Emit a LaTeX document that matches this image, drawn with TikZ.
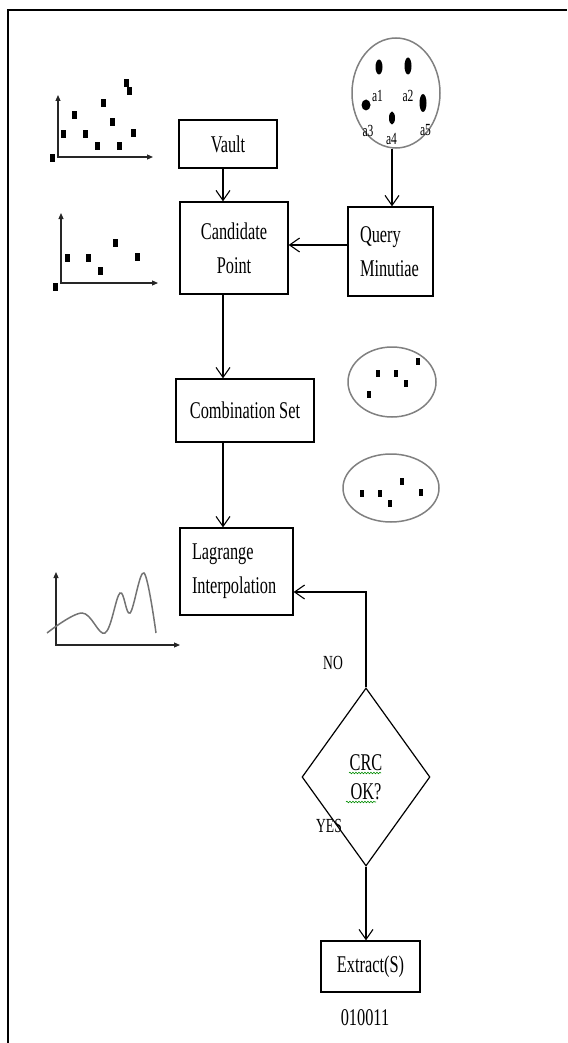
\documentclass[tikz,border=0pt]{standalone}
\usepackage{fontspec}
\setmainfont{Liberation Serif}
\newfontfamily\df[FakeStretch=0.68]{Liberation Serif}
\usetikzlibrary{arrows.meta,shapes.geometric,decorations.pathmorphing,calc}
\begin{document}
\begin{tikzpicture}[x=1pt,y=-1pt,
  box/.style={draw, line width=1.3pt, inner sep=0pt, font=\df\fontsize{24}{34}\selectfont, align=center},
  arr/.style={line width=1.1pt, -{Straight Barb[length=10pt,width=14pt,line width=1.1pt]}},
  lbl/.style={font=\df\fontsize{20}{24}\selectfont, inner sep=0pt},
  albl/.style={font=\df\fontsize{17}{20}\selectfont, inner sep=0pt},
  axis/.style={line width=1.1pt, draw=black!85, {Triangle[length=6pt,width=5pt]}-{Triangle[length=6pt,width=5pt]}},
  grayring/.style={draw=black!50, line width=1.5pt, ellipse, inner sep=0pt},
  wavy/.style={draw=green!55!black, line width=0.6pt, decorate, decoration={snake, amplitude=0.8pt, segment length=3pt}}
]
\useasboundingbox (0,0) rectangle (567,1043);
% outer frame
\draw[line width=2pt] (8,1043) -- (8,10) -- (567,10);

% boxes
\node[box, minimum width=98pt, minimum height=48pt] (vault) at (228,144) {Vault};
\node[box, minimum width=108pt, minimum height=92pt] (cand) at (234,248) {Candidate\\Point};
\node[box, align=left, text width=61pt, inner xsep=12pt, minimum height=89pt] (query) at (390.5,251.5) {Query\\Minutiae};
\node[box, minimum width=138pt, minimum height=63pt] (comb) at (245,410.5) {Combination Set};
\node[box, align=left, text width=89pt, inner xsep=12pt, minimum height=87pt] (lag) at (236.5,571.5) {Lagrange\\Interpolation};
\node[draw, diamond, line width=1.2pt, minimum width=128pt, minimum height=178pt, inner sep=0pt,
      font=\df\fontsize{24}{29}\selectfont, align=center] (dia) at (366,777) {CRC\\OK?};
\node[box, minimum width=99pt, minimum height=51pt] (ext) at (370.5,966.5) {Extract(S)};
\node[lbl, font=\df\fontsize{24}{28}\selectfont] (bits) at (365,1018) {010011};
\node[lbl] (no) at (333,663) {NO};
\node[lbl] (yes) at (329,826) {YES};

% spell-check underlines
\draw[wavy] ($(dia.center)+(-17,-4)$) -- ($(dia.center)+(15,-4)$);
\draw[wavy] ($(dia.center)+(-20,25)$) -- ($(dia.center)+(10,25)$);

% fingerprint minutiae circle
\node[grayring, minimum width=88pt, minimum height=110pt] (finger) at (396,93) {};
\fill (379,67) ellipse [x radius=3.5pt, y radius=7.5pt];
\fill (408,66) ellipse [x radius=3.5pt, y radius=8.5pt];
\fill (366,105) ellipse [x radius=4.5pt, y radius=5.5pt];
\fill (392,118) ellipse [x radius=3pt, y radius=6.5pt];
\fill (423,103) ellipse [x radius=3.5pt, y radius=9pt];
\node[albl] (a1) at (377.5,96) {a1};
\node[albl] (a2) at (408,96) {a2};
\node[albl] (a3) at (368,131) {a3};
\node[albl] (a4) at (391.5,138.5) {a4};
\node[albl] (a5) at (425.5,130.5) {a5};

% combination set ellipses
\node[grayring, minimum width=88pt, minimum height=70pt] (set1) at (392,382) {};
\node[grayring, minimum width=96pt, minimum height=68pt] (set2) at (391,488) {};
\foreach \p in {(418,361),(378,373),(396,373),(406,383),(369,394),
                (362,493),(380,493),(390,503),(402,481),(421,492)}
  \fill[shift={\p}] (-2,-3.5) rectangle (2,3.5);

% plot 1
\draw[axis] (58,95) -- (58,157) -- (153,157);
\foreach \p in {(52,158),(63,134),(74,115),(85,134),(97,146),(103,103),(112,122),(119,146),(126,83),(129,91),(133,133)}
  \fill[shift={\p}] (-2.5,-4) rectangle (2.5,4);
% plot 2
\draw[axis] (61,213) -- (61,283) -- (158,283);
\foreach \p in {(55,287),(67,258),(88,258),(100,271),(115,243),(137,257)}
  \fill[shift={\p}] (-2.5,-4) rectangle (2.5,4);
% plot 3
\draw[axis] (56,572) -- (56,645) -- (180,645);
\draw[draw=black!55, line width=1.5pt] plot[smooth, tension=0.6] coordinates
  {(47,633) (82,613) (105,633) (120,593) (130,613) (144,573) (156,633)};

% connectors
\coordinate (colx) at (223,0);
\draw[arr] (vault.south -| colx) -- (cand.north -| colx);
\draw[arr] (cand.south -| colx) -- (comb.north -| colx);
\draw[arr] (comb.south -| colx) -- (lag.north -| colx);
\coordinate (fx) at (392,0);
\draw[arr] (finger.south -| fx) -- (query.north -| fx);
\draw[arr] ([yshift=6.5pt]query.west) -- ([yshift=6.5pt]query.west -| cand.east);
\draw[arr] (dia.north) |- ([yshift=-20.5pt]lag.east);
\draw[arr] (dia.south) -- (dia.south |- ext.north);
\end{tikzpicture}
\end{document}
